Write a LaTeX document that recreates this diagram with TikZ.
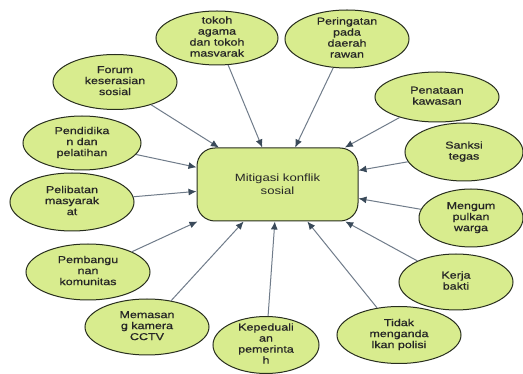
\documentclass[tikz,border=0pt]{standalone}
\usepackage{fontspec}
\setmainfont{Liberation Sans}[FakeStretch=1.25]
\newfontfamily\bubfont{Liberation Sans}[FakeStretch=1.25,FakeBold=0.8]
\usetikzlibrary{shapes.geometric,arrows.meta}
\definecolor{bubfill}{RGB}{216,236,142}
\definecolor{bubline}{RGB}{40,46,30}
\definecolor{arrline}{RGB}{112,124,138}
\definecolor{arrhead}{RGB}{58,74,90}
\newcommand{\btx}[1]{\raisebox{-2.4pt}[0pt][0pt]{\begin{tabular}{@{}c@{}}#1\end{tabular}}}
\tikzset{
  bub/.style={ellipse, draw=bubline, line width=1pt, fill=bubfill, inner sep=0pt,
    font=\bubfont\fontsize{10}{11}\selectfont, text=black!85},
  hub/.style={rectangle, rounded corners=18pt, draw=bubline, line width=1pt, fill=bubfill,
    inner sep=0pt, minimum width=161pt, minimum height=73pt,
    font=\fontsize{10.5}{13}\selectfont, align=center, text=black!85},
  arr/.style={draw=arrline, line width=1pt, -{Latex[length=8pt,width=7pt,color=arrhead]}}
}
\begin{document}
\begin{tikzpicture}[x=1pt,y=-1pt]
\fill[white] (0,0) rectangle (523,374);
\useasboundingbox (0,0) rectangle (523,374);
\node[hub] (hub) at (277.5,184.5) {Mitigasi konflik\\sosial};
\node[bub, minimum width=122pt, minimum height=54pt] (tokoh) at (217,38) {\btx{tokoh\\agama\\dan tokoh\\masvarak}};
\node[bub, minimum width=124pt, minimum height=58pt] (peringatan) at (347,39) {\btx{Peringatan\\pada\\daerah\\rawan}};
\node[bub, minimum width=124pt, minimum height=50pt] (penataan) at (437,97) {\btx{Penataan\\kawasan}};
\node[bub, minimum width=118pt, minimum height=58pt] (sanksi) at (464,152) {\btx{Sanksi\\tegas}};
\node[bub, minimum width=104pt, minimum height=58pt] (mengum) at (471,218) {\btx{Mengum\\pulkan\\warga}};
\node[bub, minimum width=114pt, minimum height=56pt] (kerja) at (456,282) {\btx{Kerja\\bakti}};
\node[bub, minimum width=124pt, minimum height=57pt] (tidak) at (399,335) {\btx{Tidak\\menganda\\lkan polisi}};
\node[bub, minimum width=106pt, minimum height=57pt] (kepeduli) at (266,345) {\btx{Kepeduali\\an\\pemerinta\\h}};
\node[bub, minimum width=124pt, minimum height=56pt] (cctv) at (147,327) {\btx{Memasan\\g kamera\\CCTV}};
\node[bub, minimum width=124pt, minimum height=56pt] (pembangunan) at (88,272) {\btx{Pembangu\\nan\\komunitas}};
\node[bub, minimum width=124pt, minimum height=58pt] (pelibatan) at (72,202) {\btx{Pelibatan\\masyarak\\at}};
\node[bub, minimum width=118pt, minimum height=54pt] (pendidikan) at (82,143) {\btx{Pendidika\\n dan\\pelatihan}};
\node[bub, minimum width=124pt, minimum height=55pt] (forum) at (115,82) {\btx{Forum\\keserasian\\sosial}};
\foreach \n in {tokoh,peringatan,penataan,sanksi,mengum,kerja,tidak,kepeduli,cctv,pembangunan,pelibatan,pendidikan,forum}
  \draw[arr] (\n) -- (hub);
\end{tikzpicture}
\end{document}
